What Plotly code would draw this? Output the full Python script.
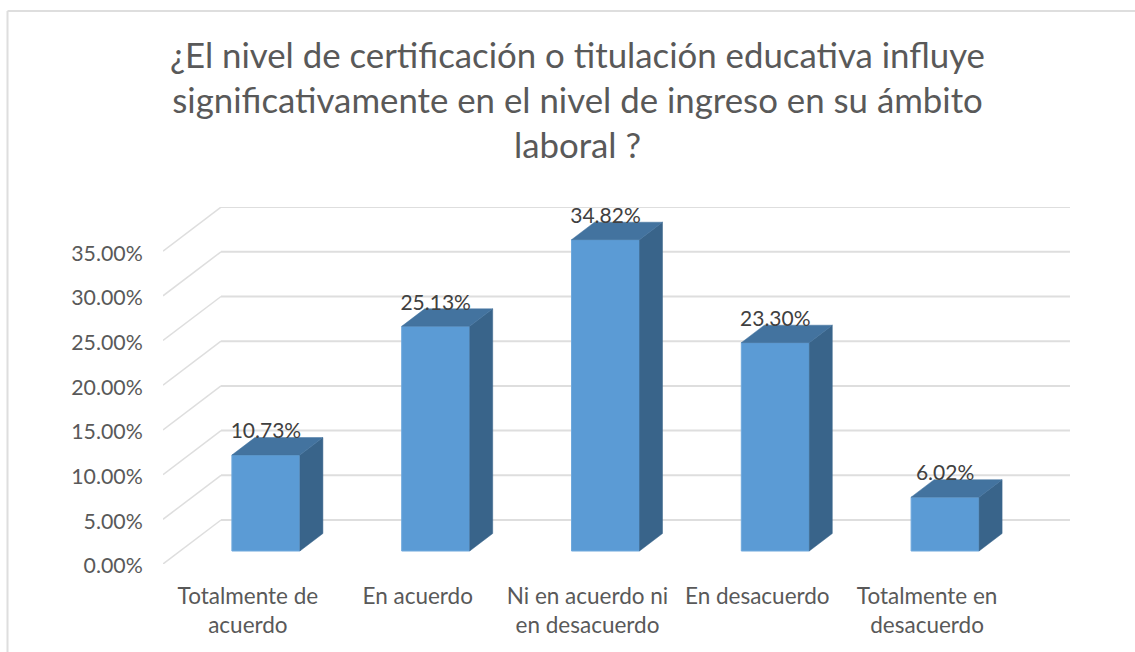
import plotly.graph_objects as go

categories = ["Totalmente de<br>acuerdo", "En acuerdo", "Ni en acuerdo ni<br>en desacuerdo",
              "En desacuerdo", "Totalmente en<br>desacuerdo"]
values = [10.73, 25.13, 34.82, 23.30, 6.02]
value_labels = ["10.73%", "25.13%", "34.82%", "23.30%", "6.02%"]
y_ticks = [0, 5, 10, 15, 20, 25, 30, 35]
y_tick_labels = ["0.00%", "5.00%", "10.00%", "15.00%", "20.00%", "25.00%", "30.00%", "35.00%"]
title = ("¿El nivel de certificación o titulación educativa influye<br>"
         "significativamente en el nivel de ingreso en su ámbito<br>laboral ?")

W, H = 1135, 652
L, R, T, B = 163, 1070, 207, 564
PX_X = 169.8
PX_Y = 8.94
WALL_DX, WALL_DY = 58 / PX_X, 44 / PX_Y
BAR_SHIFT, BAR_BASE = 18 / PX_X, 13 / PX_Y
BAR_W = 68 / PX_X
SIDE_DX, SIDE_DY = 23 / PX_X, 17.5 / PX_Y
LABEL_DY = 22 / PX_Y
X_MAX = -0.5 + (R - L) / PX_X
Y_MAX = (B - T) / PX_Y

FRONT, TOP, SIDE = "#5B9BD5", "#43739F", "#39648A"
GRID = "#DEDEDE"
FONT = "Lato"

idx = list(range(len(values)))
centers = [i + BAR_SHIFT for i in idx]

side_x, side_y, top_x, top_y = [], [], [], []
for c, v in zip(centers, values):
    xl, xr = c - BAR_W / 2, c + BAR_W / 2
    y0, y1 = BAR_BASE, BAR_BASE + v
    side_x += [xr, xr + SIDE_DX, xr + SIDE_DX, xr, xr, None]
    side_y += [y0, y0 + SIDE_DY, y1 + SIDE_DY, y1, y0, None]
    top_x += [xl, xl + SIDE_DX, xr + SIDE_DX, xr, xl, None]
    top_y += [y1, y1 + SIDE_DY, y1 + SIDE_DY, y1, y1, None]

fig = go.Figure()
fig.add_trace(go.Bar(x=centers, y=values, base=BAR_BASE, width=BAR_W,
                     marker=dict(color=FRONT, line=dict(color="#6FA8DC", width=1))))
fig.add_trace(go.Scatter(x=side_x, y=side_y, mode="lines", fill="toself", fillcolor=SIDE,
                         line=dict(color=SIDE, width=0.5)))
fig.add_trace(go.Scatter(x=top_x, y=top_y, mode="lines", fill="toself", fillcolor=TOP,
                         line=dict(color=TOP, width=0.5)))
fig.add_trace(go.Scatter(x=centers, y=[BAR_BASE + v + LABEL_DY for v in values], mode="text",
                         text=value_labels, textposition="middle center",
                         textfont=dict(family=FONT, size=21, color="#404040"), cliponaxis=False))

shapes = []
for t in y_ticks:
    shapes.append(dict(type="line", layer="below", xref="x", yref="y", x0=-0.5, y0=t,
                       x1=-0.5 + WALL_DX, y1=t + WALL_DY, line=dict(color=GRID, width=1.5)))
    shapes.append(dict(type="line", layer="below", xref="x", yref="y", x0=-0.5 + WALL_DX, y0=t + WALL_DY,
                       x1=X_MAX, y1=t + WALL_DY, line=dict(color=GRID, width=2)))

# outer chart frame
def px(x):
    return (x - L) / (R - L)
def py(y):
    return (B - y) / (B - T)
for x0, y0, x1, y1 in [(7.5, 11, 1135, 11), (7.5, 11, 7.5, 652)]:
    shapes.append(dict(type="line", layer="below", xref="paper", yref="paper", x0=px(x0), y0=py(y0),
                       x1=px(x1), y1=py(y1), line=dict(color=GRID, width=2)))

fig.update_layout(
    width=W, height=H, showlegend=False, plot_bgcolor="white", paper_bgcolor="white",
    margin=dict(l=L, r=W - R, t=T, b=H - B, pad=0), shapes=shapes,
    font=dict(family=FONT, color="#595959", size=21),
    title=dict(text=title, x=577.5 / W, xanchor="center", y=1 - 68 / H, yanchor="top", yref="container",
               font=dict(family=FONT, size=34.8, color="#595959")),
    xaxis=dict(range=[-0.5, X_MAX], tickmode="array", tickvals=idx, ticktext=categories, showgrid=False,
               zeroline=False, showline=False, ticks="outside", ticklen=12, tickcolor="rgba(0,0,0,0)",
               tickfont=dict(size=22.5)),
    yaxis=dict(range=[0, Y_MAX], tickmode="array", tickvals=y_ticks, ticktext=y_tick_labels, showgrid=False,
               zeroline=False, showline=False, ticks="outside", ticklen=15, tickcolor="rgba(0,0,0,0)",
               ticklabelshift=2, tickfont=dict(size=21.3)),
)
fig.write_html("out.html", config=dict(displayModeBar=False),
               post_script="document.body.style.margin='0';document.body.style.overflow='hidden';")
